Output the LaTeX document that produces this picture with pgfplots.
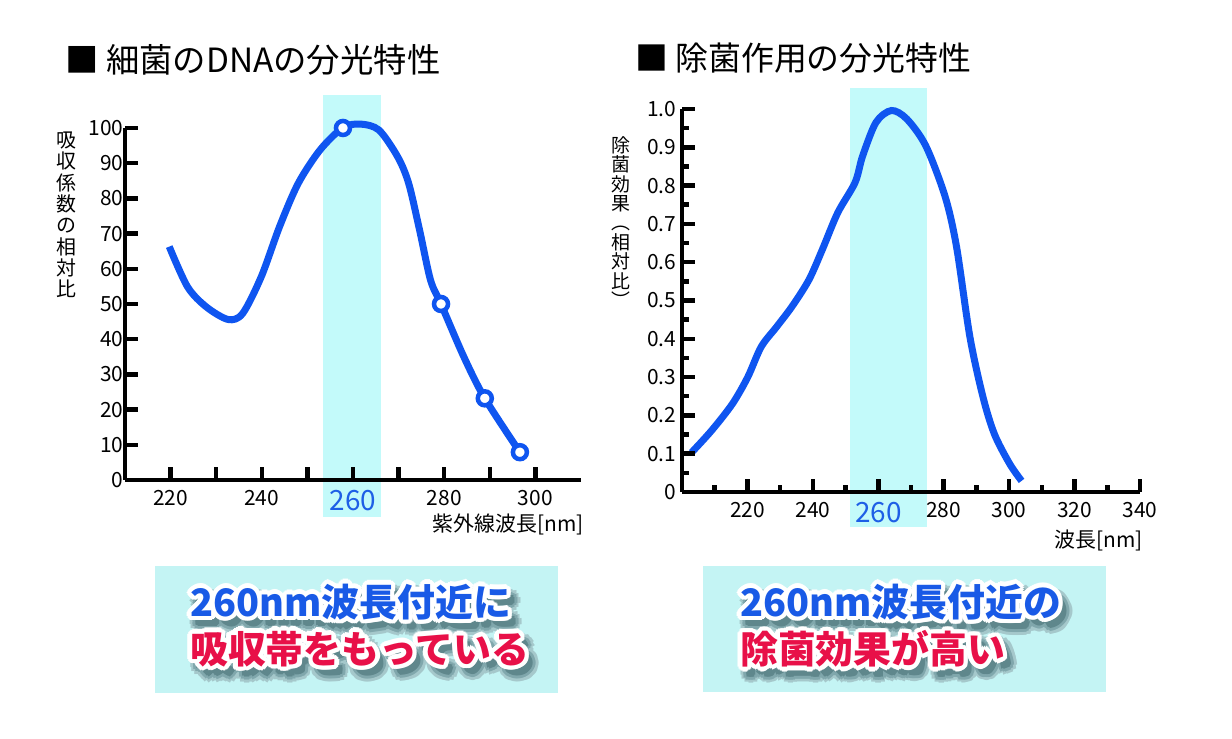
\documentclass[border=0pt]{standalone}
\usepackage{fontspec}
\setmainfont{Noto Sans CJK JP}
\usepackage{graphicx}
\usepackage{pgfplots}
\pgfplotsset{compat=1.18}
\usetikzlibrary{calc}
\definecolor{curveblue}{RGB}{15,85,240}
\definecolor{bandc}{RGB}{195,250,250}
\definecolor{boxc}{RGB}{196,244,244}
\definecolor{txtblue}{RGB}{25,90,230}
\definecolor{txtred}{RGB}{232,16,72}
\definecolor{lblblue}{RGB}{30,95,230}
\definecolor{shadowa}{RGB}{165,200,203}
\definecolor{shadowb}{RGB}{128,167,172}
\definecolor{shadowc}{RGB}{95,135,140}
\newcommand{\fs}[1]{\fontsize{#1}{#1}\selectfont}
\newcommand{\otext}[4]{%
  \foreach \a in {0,30,...,330}{\node[anchor=west,inner sep=0pt,text=shadowa,font=\bfseries\fs{38}] at ($(#1,#2)+(\a:8)+(6,-8)$) {#4};}
  \foreach \a in {0,30,...,330}{\node[anchor=west,inner sep=0pt,text=shadowb,font=\bfseries\fs{38}] at ($(#1,#2)+(\a:5)+(6,-8)$) {#4};}
  \foreach \a in {0,45,...,315}{\node[anchor=west,inner sep=0pt,text=shadowc,font=\bfseries\fs{38}] at ($(#1,#2)+(\a:2)+(6,-8)$) {#4};}
  \foreach \a in {0,22.5,...,337.5}{\node[anchor=west,inner sep=0pt,text=white,font=\bfseries\fs{38}] at ($(#1,#2)+(\a:4.5)$) {#4};}
  \node[anchor=west,inner sep=0pt,text=#3,font=\bfseries\fs{38}] at (#1,#2) {#4};}
\pgfplotsset{
  myaxis/.style={
    scale only axis, clip=false, axis on top,
    axis x line=bottom, axis y line=left,
    axis line style={-, line width=4.5bp, black},
    every outer x axis line/.append style={-},
    every outer y axis line/.append style={-},
    tick align=inside,
    major tick length=13bp, minor tick length=7bp,
    every tick/.style={line width=4.5bp, black},
    major tick style={line width=4.5bp, black},
    minor tick style={line width=4.5bp, black},
    ticklabel style={font=\fs{21}},
    xticklabel style={inner sep=2bp, yshift=-8bp},
    yticklabel style={inner sep=1.5bp},
  }
}
\begin{document}
\begin{tikzpicture}[x=1bp,y=1bp]
\useasboundingbox (0,0) rectangle (1232,739);
\fill[white] (0,0) rectangle (1232,739);
% titles
\node[anchor=west,inner sep=0pt,font=\fs{33.5}] at (65,679) {■ 細菌のDNAの分光特性};
\node[anchor=west,inner sep=0pt,font=\fs{33}] at (635,681) {■ 除菌作用の分光特性};
% left chart
\begin{axis}[myaxis, at={(125bp,259bp)}, anchor=south west,
  width=456bp, height=352bp,
  xmin=210, xmax=310, ymin=0, ymax=100,
  xtick={220,230,...,300},
  xticklabels={220,,240,,{\textcolor{lblblue}{\fs{28}260}},,280,,300},
  ytick={0,10,...,100},
  yticklabels={0,10,20,30,40,50,60,70,80,90,100},
]
\addplot[fill=bandc, draw=none] coordinates {(253.4,-10.5) (266.1,-10.5) (266.1,109.4) (253.4,109.4)} -- cycle;
\addplot[curveblue, line width=7bp, smooth, tension=0.5] coordinates {
(219.7,66.3) (223.7,54.9) (227.8,49.2) (232.6,45.6) (235.8,47.3) (239.9,57.8) (243.9,72.0) (248.0,84.3) (252.8,93.8) (257.8,100.1) (261.7,101.1) (265.7,99.4) (269.8,91.8) (272.2,84.3) (274.6,71.0) (277.0,56.8) (279.3,50.0) (284.3,35.0) (288.9,23.2) (296.6,7.9)};
\addplot[only marks, line width=4.5bp, draw=curveblue, fill=white, mark=*, mark size=7bp, mark options={line width=4.5bp, draw=curveblue, fill=white}] coordinates {(257.8,100) (279.3,50) (288.9,23.2) (296.6,7.9)};
\end{axis}
\node[anchor=east,inner sep=0pt,font=\fs{21}] at (584,215) {紫外線波長[nm]};
\node[align=center,inner sep=0pt,font=\fontsize{20}{21.4}\selectfont] at (66,524) {吸\\収\\係\\数\\の\\相\\対\\比};
% right chart
\begin{axis}[myaxis, at={(682bp,247bp)}, anchor=south west,
  width=458bp, height=383bp,
  xmin=200, xmax=340, ymin=0, ymax=1,
  xtick={220,240,...,340},
  minor xtick={210,230,...,330},
  xticklabels={220,240,{\textcolor{lblblue}{\fs{28}260}},280,300,320,340},
  ytick={0,0.1,...,1.0},
  minor ytick={0.05,0.15,...,0.95},
  yticklabels={0,0.1,0.2,0.3,0.4,0.5,0.6,0.7,0.8,0.9,1.0},
  yticklabel style={xshift=-4bp},
]
\addplot[fill=bandc, draw=none] coordinates {(251.4,-0.091) (274.9,-0.091) (274.9,1.055) (251.4,1.055)} -- cycle;
\addplot[curveblue, line width=7bp, smooth, tension=0.5] coordinates {
(202.9,0.103) (209.0,0.160) (215.4,0.230) (220.1,0.300) (224.2,0.379) (228.9,0.431) (233.6,0.484) (238.8,0.554) (242.9,0.633) (247.6,0.729) (252.9,0.808) (255.2,0.877) (259.3,0.965) (264.0,0.996) (268.7,0.974) (274.5,0.904) (280.4,0.772) (283.9,0.641) (288.0,0.405) (292.0,0.248) (295.5,0.151) (300.2,0.073) (303.8,0.029)};
\end{axis}
\node[anchor=east,inner sep=0pt,font=\fs{21}] at (1143,199) {波長[nm]};
\node[align=center,inner sep=0pt,font=\fontsize{19}{19.5}\selectfont] at (621,517) {除\\菌\\効\\果\\︵\\相\\対\\比\\︶};
% bottom boxes
\fill[boxc] (155,46) rectangle (558,173);
\fill[boxc] (703,47) rectangle (1106,173);
\otext{190}{137}{txtblue}{260nm波長付近に}
\otext{190}{90}{txtred}{吸収帯をもっている}
\otext{740}{137}{txtblue}{260nm波長付近の}
\otext{740}{90}{txtred}{除菌効果が高い}
\end{tikzpicture}
\end{document}
